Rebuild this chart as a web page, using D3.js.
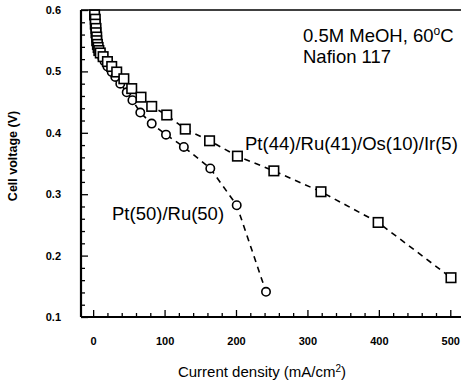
<!DOCTYPE html>
<html><head><meta charset="utf-8">
<script src="https://cdn.jsdelivr.net/npm/d3@7"></script>
<style>body{margin:0;background:#fff}svg{display:block}</style>
</head><body>
<script>
// Data
const seriesNames = ["Pt(44)/Ru(41)/Os(10)/Ir(5)", "Pt(50)/Ru(50)"];
const quatX = [2,3,3,4,4,5,5,6,7,8,10,14,20,26,33,43,54,67,82,103,129,163,202,253,319,399,501];
const quatY = [0.592,0.585,0.577,0.570,0.563,0.556,0.550,0.544,0.539,0.534,0.530,0.524,0.516,0.508,0.499,0.488,0.472,0.458,0.443,0.429,0.406,0.387,0.362,0.338,0.304,0.254,0.164];
const ptruX = [3,4,5,6,8,10,13,16,20,26,31,38,47,55,66,82,102,127,164,201,242];
const ptruY = [0.570,0.560,0.552,0.545,0.538,0.530,0.522,0.516,0.508,0.499,0.491,0.480,0.466,0.453,0.433,0.415,0.397,0.377,0.342,0.282,0.141];
const xTicks = [0,100,200,300,400,500];
const yTicks = [0.1,0.2,0.3,0.4,0.5,0.6];
const xLabel = "Current density (mA/cm";
const yLabel = "Cell voltage (V)";

const W = 462, H = 386;
const svg = d3.select("body").append("svg").attr("width", W).attr("height", H);
const x = d3.scaleLinear().domain([-17, 515]).range([81, 461]);
const y = d3.scaleLinear().domain([0.1, 0.6]).range([317, 10]);

const font = "Arial, 'Liberation Sans', sans-serif";

// top border
svg.append("line").attr("x1", 81).attr("x2", 461).attr("y1", y(0.6)).attr("y2", y(0.6))
  .attr("stroke", "#000").attr("stroke-width", 1.5);

// axes with minor ticks (inward)
const gx = svg.append("g").attr("transform", `translate(0,${y(0.1)})`);
gx.call(d3.axisTop(x).tickValues(d3.range(0, 501, 20)).tickSize(4).tickFormat(""));
gx.selectAll(".tick line").attr("stroke-width", 1.3).attr("y2", d => (d % 100 === 0) ? -7 : -4);
gx.select(".domain").attr("stroke-width", 2.2).attr("d", `M81,0H461`);
const gxl = svg.append("g").attr("transform", `translate(0,${y(0.1)})`);
gxl.call(d3.axisBottom(x).tickValues(xTicks).tickSize(0).tickPadding(20).tickFormat(d3.format("d")));
gxl.select(".domain").remove();
gxl.selectAll("text").attr("font-family", font).attr("font-weight", "bold").attr("font-size", 11);

const gy = svg.append("g").attr("transform", `translate(${x(-17)},0)`);
gy.call(d3.axisRight(y).tickValues(d3.range(0.1, 0.6001, 0.02)).tickSize(4).tickFormat(""));
gy.selectAll(".tick line").attr("stroke-width", 1.3).attr("x2", (d) => (Math.abs(d*10 - Math.round(d*10)) < 1e-6) ? 7 : 4);
gy.select(".domain").attr("stroke-width", 2.2).attr("d", `M0,${y(0.1)}V${y(0.6)}`);
const gyl = svg.append("g").attr("transform", `translate(${x(-17)},0)`);
gyl.call(d3.axisLeft(y).tickValues(yTicks).tickSize(0).tickPadding(20).tickFormat(d3.format(".1f")));
gyl.select(".domain").remove();
gyl.selectAll("text").attr("font-family", font).attr("font-weight", "bold").attr("font-size", 11);

// axis titles
const xt = svg.append("text").attr("x", 262).attr("y", 377).attr("text-anchor", "middle")
  .attr("font-family", font).attr("font-size", 15).text(xLabel);
xt.append("tspan").attr("dy", -5).attr("font-size", 10).text("2");
xt.append("tspan").attr("dy", 5).text(")");
svg.append("text").attr("transform", `translate(17,156) rotate(-90)`).attr("text-anchor", "middle")
  .attr("font-family", font).attr("font-weight", "bold").attr("font-size", 12.5).text(yLabel);

// lines
const quat = quatX.map((v, i) => [v, quatY[i]]);
const ptru = ptruX.map((v, i) => [v, ptruY[i]]);
const line = d3.line().x(d => x(d[0])).y(d => y(d[1]));
[quat, ptru].forEach(data => {
  svg.append("path").attr("d", line(data)).attr("fill", "none").attr("stroke", "#000")
    .attr("stroke-width", 1.6).attr("stroke-dasharray", "6,5");
});

// markers
svg.append("g").selectAll("circle").data(ptru).join("circle")
  .attr("cx", d => x(d[0])).attr("cy", d => y(d[1])).attr("r", 4.2)
  .attr("fill", "#fff").attr("stroke", "#000").attr("stroke-width", 1.6);
const s = 9.5;
svg.append("g").selectAll("rect").data(quat).join("rect")
  .attr("x", d => x(d[0]) - s/2).attr("y", d => y(d[1]) - s/2).attr("width", s).attr("height", s)
  .attr("fill", "#fff").attr("stroke", "#000").attr("stroke-width", 1.6);

// annotations
const ann = svg.append("g").attr("font-family", font).attr("font-size", 18.5);
const t1 = ann.append("text").attr("x", 303).attr("y", 42).text("0.5M MeOH, 60");
t1.append("tspan").attr("dy", -7).attr("font-size", 12).text("o");
t1.append("tspan").attr("dy", 7).text("C");
ann.append("text").attr("x", 303).attr("y", 63).text("Nafion 117");
ann.append("text").attr("x", 245).attr("y", 150).text(seriesNames[0]);
ann.append("text").attr("x", 112).attr("y", 220).text(seriesNames[1]);
</script>
</body></html>
